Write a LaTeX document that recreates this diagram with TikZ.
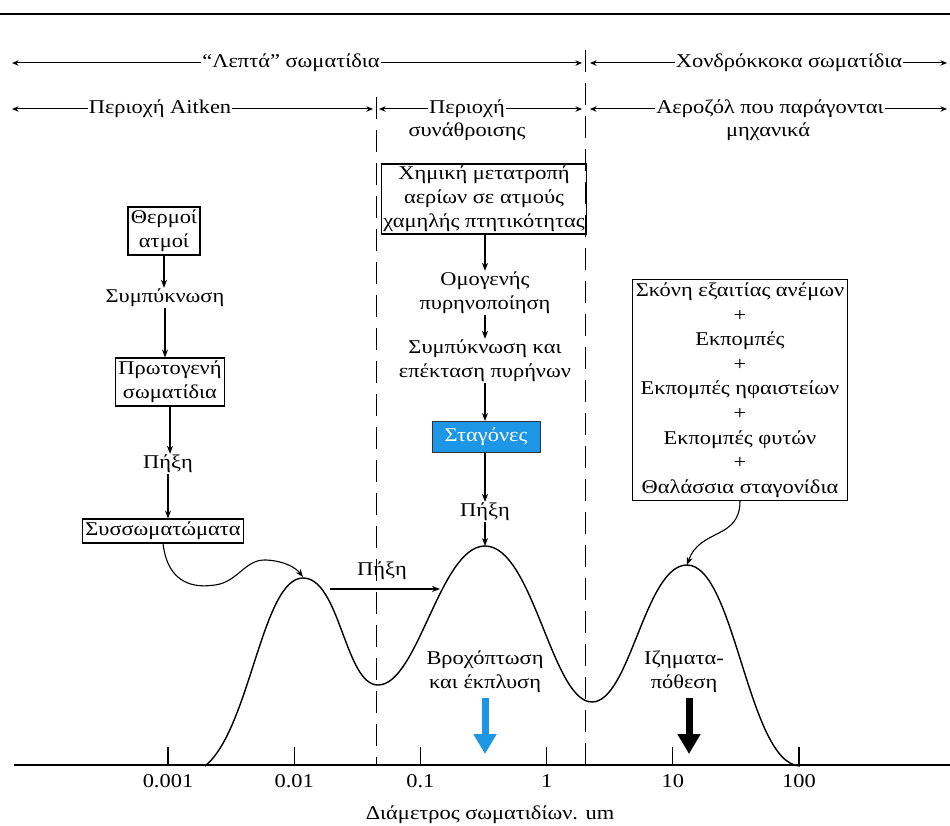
\documentclass[tikz,border=0pt]{standalone}
\usepackage{fontspec}
\setmainfont[FakeStretch=1.15]{Liberation Serif}
\usetikzlibrary{arrows.meta}
\definecolor{skyb}{RGB}{30,150,230}
\begin{document}
\begin{tikzpicture}[x=1pt,y=-1pt,
  every node/.style={font=\fontsize{19.5}{24}\selectfont, inner sep=1pt},
  lbl/.style={align=center},
  bx/.style={draw, line width=1.1pt, align=center, inner sep=3pt},
  arr/.style={-{Stealth[length=8pt,width=6pt]}, line width=1.1pt},
  harr/.style={-{Stealth[length=6.5pt,width=5.5pt]}, line width=1pt},
  vdash/.style={line width=1pt, dash pattern=on 22pt off 11pt},
  fat/.style={line width=7pt, -{Triangle[length=20pt,width=22pt]}},
]
\useasboundingbox (0,0) rectangle (950,826);
% top rule
\draw[line width=2.5pt] (0,14) -- (950,14);

% header row 1
\node (lep) at (291,63) {``Λεπτά'' σωματίδια};
\node (xon) at (789,63) {Χονδρόκκοκα σωματίδια};
\coordinate (r1a) at (12,63);
\coordinate (r1b) at (582,63);
\coordinate (r1c) at (590,63);
\coordinate (r1d) at (947,63);
\draw[harr] (lep.west) -- (r1a);
\draw[harr] (lep.east) -- (r1b);
\draw[harr] (xon.west) -- (r1c);
\draw[harr] (xon.east) -- (r1d);

% header row 2
\node (ait) at (160,109) {Περιοχή Aitken};
\node (syn) at (467,109) {Περιοχή};
\node (syn2) at (467,132) {συνάθροισης};
\node (aer) at (770,109) {Αεροζόλ που παράγονται};
\node (aer2) at (768,132) {μηχανικά};
\coordinate (r2a) at (12,109);
\coordinate (r2b) at (373,109);
\coordinate (r2c) at (379,109);
\coordinate (r2d) at (582,109);
\coordinate (r2e) at (590,109);
\coordinate (r2f) at (947,109);
\draw[harr] (ait.west) -- (r2a);
\draw[harr] (ait.east) -- (r2b);
\draw[harr] (syn.west) -- (r2c);
\draw[harr] (syn.east) -- (r2d);
\draw[harr] (aer.west) -- (r2e);
\draw[harr] (aer.east) -- (r2f);

% dashed separators
\coordinate (d1t) at (376,97);
\coordinate (d1b) at (376,765);
\coordinate (d2t) at (585,50);
\coordinate (d2b) at (585,765);
\draw[vdash] (d1t) -- (d1b);
\draw[vdash] (d2t) -- (d2b);

% left column
\node[bx] (th) at (164,231) {Θερμοί\\ατμοί};
\node (s1) at (165,298) {Συμπύκνωση};
\node[bx] (pr) at (170,382) {Πρωτογενή\\σωματίδια};
\node (p1) at (168,464) {Πήξη};
\node[bx] (ss) at (163,531) {Συσσωματώματα};
\draw[arr] (th.south) -- (th.south |- s1.north);
\draw[arr] (s1.south) -- (s1.south |- pr.north);
\draw[arr] (pr.south) -- (pr.south |- p1.north);
\draw[arr] (p1.south) -- (p1.south |- ss.north);

% middle column
\node[bx, inner sep=2pt] (ch) at (484,199) {Χημική μετατροπή\\αερίων σε ατμούς\\χαμηλής πτητικότητας};
\node[lbl] (om) at (485,293) {Ομογενής\\πυρηνοποίηση};
\node[lbl] (sy) at (485,361) {Συμπύκνωση και\\επέκταση πυρήνων};
\node[draw=black!80, line width=1pt, fill=skyb, text=white, inner sep=4pt, minimum width=108pt, minimum height=31pt] (st) at (486,437) {Σταγόνες};
\node (p2) at (485,512) {Πήξη};
\draw[arr] (ch.south -| om.north) -- (om.north);
\draw[arr] (om.south) -- (sy.north);
\draw[arr] (sy.south) -- (sy.south |- st.north);
\draw[arr] (st.south -| p2.north) -- (p2.north);

% right box
\node[bx, font=\fontsize{19.5}{24.6}\selectfont, inner sep=3pt] (rb) at (740,390)
 {Σκόνη εξαιτίας ανέμων\\+\\Εκπομπές\\+\\Εκπομπές ηφαιστείων\\+\\Εκπομπές φυτών\\+\\Θαλάσσια σταγονίδια};

% peaks
\coordinate (pk1) at (303,577);
\coordinate (pk2) at (485,546);
\coordinate (pk3) at (687,565);
\draw[arr] (p2.south) -- (pk2);
\draw[arr] (ss.south) .. controls (168,585) and (195,588) .. (215,585)
  .. controls (238,582) and (245,559) .. (266,560)
  .. controls (285,561) and (296,568) .. (pk1);
\draw[arr] (rb.south) .. controls (740,540) and (700,528) .. (pk3);

% horizontal coagulation arrow
\node (p3) at (382,571) {Πήξη};
\coordinate (ha) at (330,589);
\coordinate (hb) at (440,589);
\draw[arr] (ha) -- (hb);

% distribution curve
\draw[line width=1.4pt] (205,766) .. controls (250,730) and (262,578) .. (303,578)
  .. controls (340,578) and (345,685) .. (378,685)
  .. controls (418,685) and (440,546) .. (485,546)
  .. controls (533,546) and (552,702) .. (592,702)
  .. controls (630,702) and (645,565) .. (687,565)
  .. controls (735,565) and (748,764) .. (800,766);

% removal
\node[lbl] (br) at (485,672) {Βροχόπτωση\\και έκπλυση};
\node[lbl] (iz) at (684,672) {Ιζηματα-\\πόθεση};
\coordinate (bs) at (485,698);
\coordinate (bt) at (485,754);
\coordinate (ks) at (689,698);
\coordinate (kt) at (689,754);
\draw[fat, draw=skyb, fill=skyb] (bs) -- (bt);
\draw[fat, draw=black, fill=black] (ks) -- (kt);

% axis
\coordinate (ax0) at (14,765);
\coordinate (ax1) at (950,765);
\draw[line width=1.8pt] (ax0) -- (ax1);
\foreach \i/\t in {0/0.001,1/0.01,2/0.1,3/1,4/10,5/100}{
  \draw[line width=1.1pt] (168+126.2*\i,765) -- (168+126.2*\i,747);
  \node (lab\i) at (168+126.2*\i,781) {\t};
}
\node (xt) at (490,815) {Διάμετρος σωματιδίων. um};
\end{tikzpicture}
\end{document}
